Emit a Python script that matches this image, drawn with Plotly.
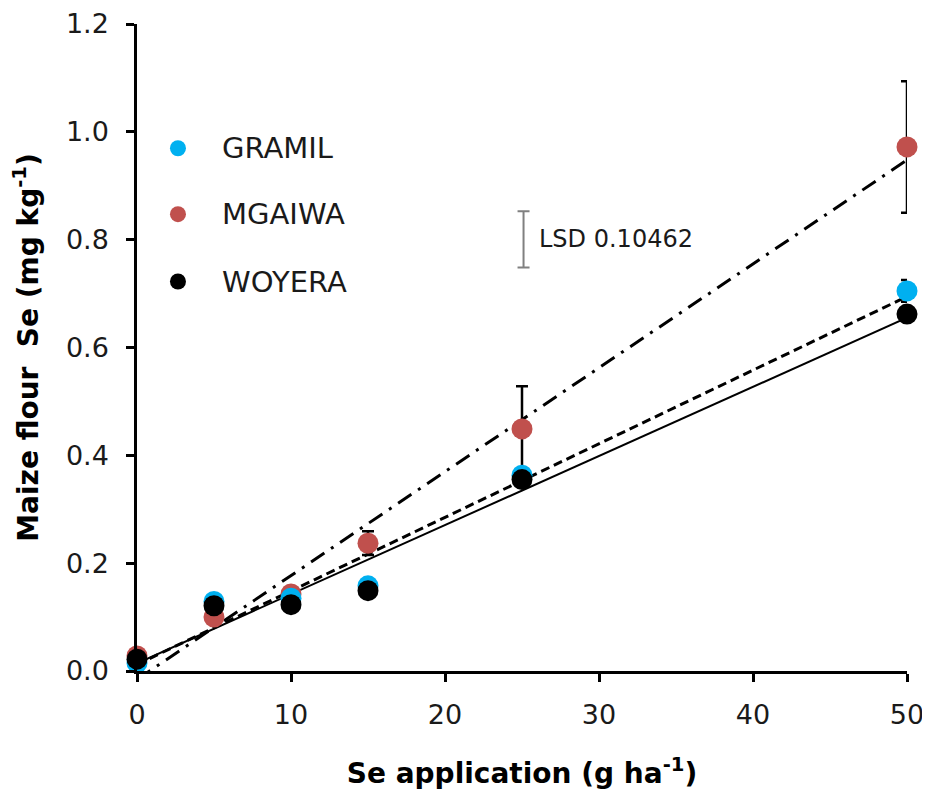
import numpy as np
import plotly.graph_objects as go

# ---- data ----
se_rate = [0, 5, 10, 15, 25, 50]
gramil = [0.015, 0.129, 0.135, 0.158, 0.363, 0.705]
mgaiwa = [0.028, 0.100, 0.143, 0.237, 0.449, 0.972]
woyera = [0.022, 0.121, 0.123, 0.149, 0.355, 0.662]
gramil_err = [None, None, None, None, None, 0.020]
mgaiwa_err = [None, None, None, 0.022, 0.079, 0.122]
series_names = ["GRAMIL", "MGAIWA", "WOYERA"]
colors = ["#00B0F0", "#C0504D", "#000000"]
lsd_value = 0.10462
lsd_x = 25.1
lsd_center = 0.8005
x_ticks = [0, 10, 20, 30, 40, 50]
y_ticks = [0.0, 0.2, 0.4, 0.6, 0.8, 1.0, 1.2]

FONT = "DejaVu Sans"
TXT = "#1a1a1a"
fig = go.Figure()

# regression lines
line_styles = {"GRAMIL": dict(dash="9px,5px", width=3),
               "MGAIWA": dict(dash="16px,8px,3px,8px", width=3),
               "WOYERA": dict(dash="solid", width=2)}
xl = np.array([0, 50])
for name, ys in zip(series_names, [gramil, mgaiwa, woyera]):
    m, b = np.polyfit(se_rate, ys, 1)
    fig.add_trace(go.Scatter(x=xl, y=m * xl + b, mode="lines",
                             line=dict(color="black", **line_styles[name]),
                             showlegend=False, hoverinfo="skip"))

def err(arr):
    return dict(type="data", array=[0 if v is None else v for v in arr],
                visible=True, color="black", thickness=2.5, width=6)

fig.add_trace(go.Scatter(x=se_rate, y=mgaiwa, mode="markers", name="MGAIWA",
                         marker=dict(color=colors[1], size=21),
                         error_y=err(mgaiwa_err), cliponaxis=False, showlegend=False))
fig.add_trace(go.Scatter(x=se_rate, y=gramil, mode="markers", name="GRAMIL",
                         marker=dict(color=colors[0], size=21),
                         error_y=err(gramil_err), cliponaxis=False, showlegend=False))
fig.add_trace(go.Scatter(x=se_rate, y=woyera, mode="markers", name="WOYERA",
                         marker=dict(color=colors[2], size=21),
                         cliponaxis=False, showlegend=False))

# LSD bar
fig.add_trace(go.Scatter(x=[lsd_x], y=[lsd_center], mode="markers",
                         marker=dict(size=1, color="rgba(0,0,0,0)"),
                         error_y=dict(type="data", array=[lsd_value / 2], color="#808080",
                                      thickness=2, width=6),
                         showlegend=False, hoverinfo="skip"))
fig.add_annotation(x=lsd_x, y=lsd_center, xref="x", yref="y", xanchor="left", yanchor="middle",
                   xshift=13, text="LSD 0.10462", showarrow=False,
                   font=dict(family=FONT, size=24, color=TXT))

# custom legend
leg_y = [0.808, 0.706, 0.602]
for name, col, yy in zip(series_names, colors, leg_y):
    fig.add_shape(type="circle", xref="paper", yref="paper", xsizemode="pixel", ysizemode="pixel",
                  xanchor=0.0532, yanchor=yy, x0=-8, x1=8, y0=-8, y1=8,
                  fillcolor=col, line=dict(width=0))
    fig.add_annotation(x=0.108, y=yy, xref="paper", yref="paper", xanchor="left", yanchor="middle",
                       text=name, showarrow=False, font=dict(family=FONT, size=29, color=TXT))

fig.update_layout(
    width=930, height=789,
    margin=dict(l=129, r=31, t=16, b=126),
    paper_bgcolor="white", plot_bgcolor="white",
    font=dict(family=FONT, size=27, color=TXT),
    showlegend=False,
)
fig.update_xaxes(range=[0, 50], tickvals=x_ticks, ticks="outside", ticklen=8, tickwidth=2.5,
                 tickcolor="black", showline=True, linecolor="black", linewidth=2.5,
                 showgrid=False, zeroline=False, automargin=False, ticklabelstandoff=10,
                 title=dict(text="<b>Se application (g ha<sup>-1</sup>)</b>",
                            font=dict(family=FONT, size=28, color="black"), standoff=35))
fig.update_yaxes(range=[0, 1.2], tickvals=y_ticks, tickformat=".1f", ticks="outside", ticklen=8,
                 tickwidth=2.5, tickcolor="black", showline=True, linecolor="black", linewidth=2.5,
                 showgrid=False, zeroline=False, ticklabelstandoff=12, automargin=False,
                 title=dict(text="<b>Maize flour  Se (mg kg<sup>-1</sup>)</b>",
                            font=dict(family=FONT, size=28, color="black"), standoff=23))

fig.write_html("out.html")
